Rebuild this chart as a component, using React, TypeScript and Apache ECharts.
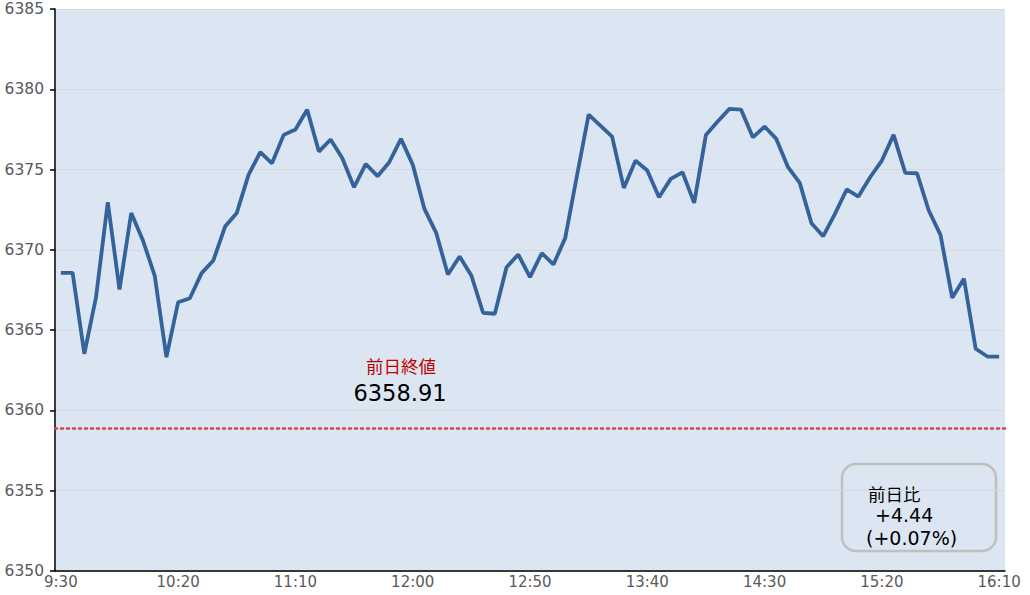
import React, { useEffect, useRef } from "react";
import * as echarts from "echarts";

const times: string[] = [];
for (let m = 9 * 60 + 30; m <= 16 * 60 + 10; m += 5) {
  times.push(`${Math.floor(m / 60)}:${String(m % 60).padStart(2, "0")}`);
}

const prices = [
  6368.57, 6368.57, 6363.53, 6367.05, 6372.97, 6367.53, 6372.3, 6370.58, 6368.4, 6363.32,
  6366.74, 6366.99, 6368.55, 6369.34, 6371.45, 6372.3, 6374.67, 6376.08, 6375.39, 6377.16,
  6377.49, 6378.73, 6376.12, 6376.87, 6375.71, 6373.9, 6375.35, 6374.59, 6375.46, 6376.91,
  6375.31, 6372.55, 6371.06, 6368.46, 6369.59, 6368.4, 6366.08, 6366.02, 6368.92, 6369.71,
  6368.3, 6369.79, 6369.09, 6370.73, 6374.6, 6378.42, 6377.74, 6377.05, 6373.86, 6375.56,
  6374.94, 6373.28, 6374.42, 6374.83, 6372.93, 6377.16, 6377.99, 6378.78, 6378.73, 6377.01,
  6377.68, 6376.91, 6375.15, 6374.17, 6371.66, 6370.85, 6372.24, 6373.76, 6373.32, 6374.52,
  6375.56, 6377.16, 6374.79, 6374.77, 6372.45, 6370.93, 6367.01, 6368.2, 6363.84, 6363.36,
  6363.35,
];

const prevClose = 6358.91;
const prevCloseLabel = "前日終値";
const prevCloseText = "6358.91";
const changeTitle = "前日比";
const changeValue = "+4.44";
const changePct = "(+0.07%)";

const yMin = 6350;
const yMax = 6385;
const yStep = 5;

const CJK = "'Noto Sans CJK JP', 'Noto Sans', sans-serif";
const NUM = "'DejaVu Sans', 'Noto Sans CJK JP', sans-serif";

export default function App() {
  const ref = useRef<HTMLDivElement>(null);
  useEffect(() => {
    if (!ref.current) return;
    const chart = echarts.init(ref.current, undefined, { renderer: "svg" });
    chart.setOption({
      animation: false,
      backgroundColor: "#ffffff",
      textStyle: { fontFamily: NUM },
      grid: {
        left: 55,
        right: 25,
        top: 9,
        bottom: 24,
        show: true,
        backgroundColor: "#dce6f2",
        borderWidth: 0,
      },
      xAxis: {
        type: "category",
        data: times,
        boundaryGap: true,
        axisLine: { lineStyle: { color: "#000000", width: 1.5 } },
        axisTick: {
          inside: true,
          length: 4,
          lineStyle: { color: "#000000", width: 1.5 },
          interval: (i: number) => i % 10 === 5 || i === times.length - 1,
        },
        axisLabel: {
          interval: (i: number) => i % 10 === 0,
          color: "#595959",
          fontSize: 15,
          fontFamily: NUM,
          margin: 3,
        },
        splitLine: { show: false },
      },
      yAxis: {
        type: "value",
        min: yMin,
        max: yMax,
        interval: yStep,
        axisLine: { show: true, lineStyle: { color: "#000000", width: 1.5 } },
        axisTick: { show: true, length: 5, lineStyle: { color: "#000000", width: 1.5 } },
        axisLabel: {
          color: "#595959",
          fontSize: 15.5,
          fontFamily: NUM,
          margin: 11,
          formatter: (v: number) => String(v),
        },
        splitLine: { show: true, lineStyle: { color: "#d9d9d9", width: 1 } },
      },
      series: [
        {
          type: "line",
          data: prices,
          symbol: "none",
          lineStyle: { color: "#34629a", width: 3.8 },
          markLine: {
            silent: true,
            symbol: "none",
            label: { show: false },
            lineStyle: { color: "#d0474b", type: [2, 4], width: 2.5, cap: "round" },
            data: [{ yAxis: prevClose }],
          },
        },
      ],
      graphic: [
        {
          type: "text",
          x: 401,
          y: 365,
          style: {
            text: prevCloseLabel,
            fill: "#c00000",
            fontSize: 17.5,
            fontFamily: CJK,
            textAlign: "center",
            textVerticalAlign: "middle",
          },
        },
        {
          type: "text",
          x: 400,
          y: 393,
          style: {
            text: prevCloseText,
            fill: "#000000",
            fontSize: 22.5,
            fontFamily: NUM,
            textAlign: "center",
            textVerticalAlign: "middle",
          },
        },
        {
          type: "rect",
          shape: { x: 842, y: 464, width: 154, height: 87, r: 14 },
          style: { fill: "transparent", stroke: "#bfbfbf", lineWidth: 2.5 },
        },
        {
          type: "text",
          x: 868,
          y: 493,
          style: {
            text: changeTitle,
            fill: "#000000",
            fontSize: 17.5,
            fontFamily: CJK,
            textAlign: "left",
            textVerticalAlign: "middle",
          },
        },
        {
          type: "text",
          x: 875,
          y: 515,
          style: {
            text: changeValue,
            fill: "#000000",
            fontSize: 19,
            fontFamily: NUM,
            textAlign: "left",
            textVerticalAlign: "middle",
          },
        },
        {
          type: "text",
          x: 866,
          y: 538,
          style: {
            text: changePct,
            fill: "#000000",
            fontSize: 19,
            fontFamily: NUM,
            textAlign: "left",
            textVerticalAlign: "middle",
          },
        },
      ],
    });
    return () => chart.dispose();
  }, []);
  return (
    <div
      ref={ref}
      style={{ position: "absolute", left: 0, top: 0, width: 1030, height: 595 }}
    />
  );
}
